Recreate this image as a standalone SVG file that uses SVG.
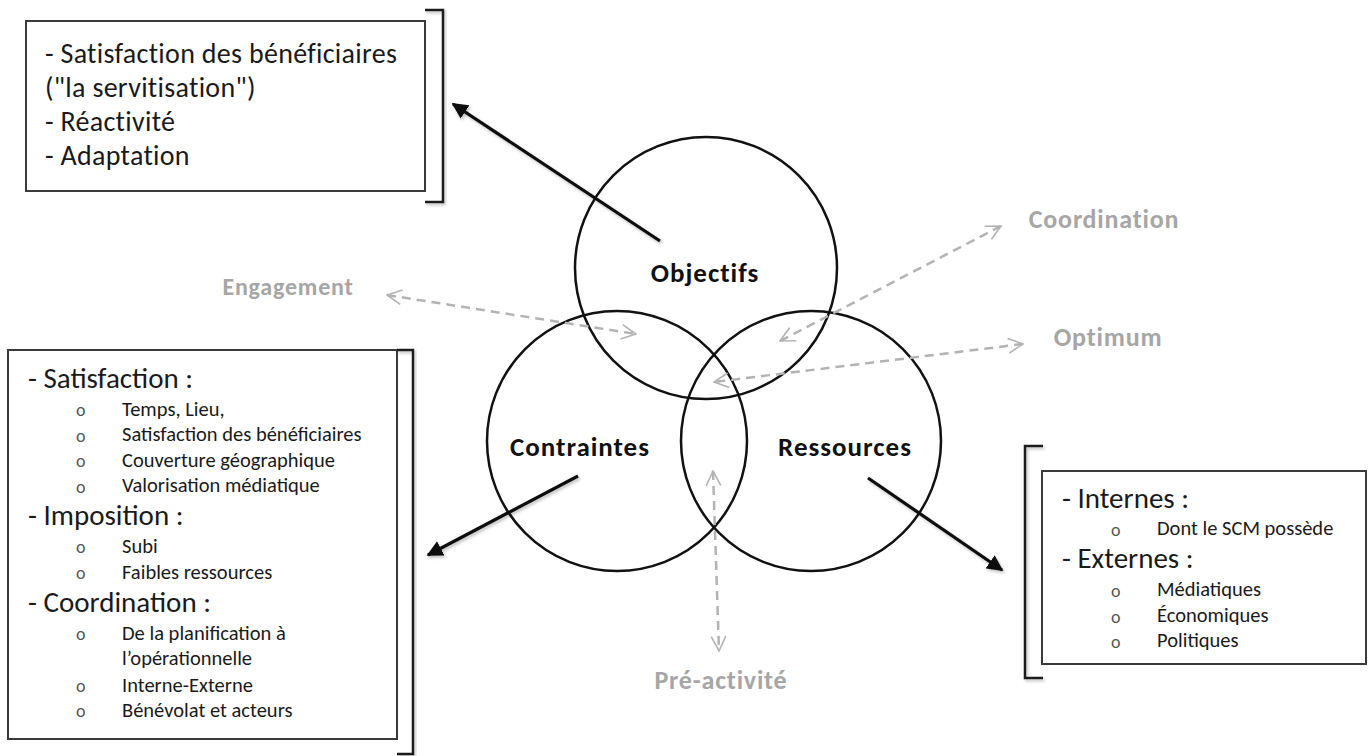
<svg xmlns="http://www.w3.org/2000/svg" width="1372" height="756" viewBox="0 0 1372 756">
  <style>
    text { font-family: Carlito, Lato, "Open Sans", sans-serif; fill: #1a1a1a; }
    .box { fill: #ffffff; stroke: #3a3a3a; stroke-width: 2; }
    .bracket { fill: none; stroke: #1a1a1a; stroke-width: 2.5; filter: url(#soft); }
    .circle { fill: none; stroke: #111111; stroke-width: 2.5; }
    .label { font-weight: bold; font-size: 27px; letter-spacing: 1px; fill: #111111; }
    .glabel { font-weight: bold; font-size: 26px; letter-spacing: 0.8px; fill: #a6a6a6; }
    .h1 { font-size: 28px; letter-spacing: 0.3px; }
    .h2 { font-size: 29px; }
    .sub { font-size: 20.5px; }
    .bul { font-size: 18px; fill: #555555; }
    .main { stroke: #111111; stroke-width: 3.2; fill: none; marker-end: url(#solid); filter: url(#soft); }
    .link { stroke: #b3b3b3; stroke-width: 2.5; stroke-dasharray: 9 6; fill: none; marker-start: url(#open); marker-end: url(#open); }
  </style>
  <defs>
    <filter id="soft" x="-10%" y="-10%" width="130%" height="130%">
      <feDropShadow dx="1.5" dy="2" stdDeviation="1.5" flood-color="#000000" flood-opacity="0.25"/>
    </filter>
    <marker id="solid" viewBox="0 0 10 10" refX="9" refY="5" markerWidth="5" markerHeight="5" orient="auto" markerUnits="strokeWidth">
      <path d="M0,0 L10,5 L0,10 Z" fill="#111111"/>
    </marker>
    <marker id="open" viewBox="0 0 12 12" refX="11" refY="6" markerWidth="7" markerHeight="7" orient="auto-start-reverse" markerUnits="strokeWidth">
      <path d="M1,1 L11,6 L1,11" fill="none" stroke="#b3b3b3" stroke-width="1.1"/>
    </marker>
  </defs>

  <rect width="1372" height="756" fill="#ffffff"/>

  <!-- Venn of the three dimensions -->
  <g id="objectifs">
    <circle class="circle" cx="706" cy="268" r="131"/>
    <text class="label" x="705" y="282" text-anchor="middle">Objectifs</text>
  </g>
  <g id="contraintes">
    <circle class="circle" cx="617" cy="441" r="130"/>
    <text class="label" x="580" y="456" text-anchor="middle">Contraintes</text>
  </g>
  <g id="ressources">
    <circle class="circle" cx="811" cy="441" r="130"/>
    <text class="label" x="845" y="456" text-anchor="middle">Ressources</text>
  </g>

  <!-- Objectives box -->
  <g id="box-objectifs">
    <rect class="box" x="26" y="21" width="399" height="170"/>
    <path class="bracket" d="M425,10 H443 V202 H425"/>
    <text class="h1" x="45" y="63">- Satisfaction des bénéficiaires</text>
    <text class="h1" x="45" y="97">("la servitisation")</text>
    <text class="h1" x="45" y="131">- Réactivité</text>
    <text class="h1" x="45" y="165">- Adaptation</text>
  </g>

  <!-- Constraints box -->
  <g id="box-contraintes">
    <rect class="box" x="8" y="350" width="389" height="389"/>
    <path class="bracket" d="M397,350 H413 V754 H397"/>
    <text class="h2" x="28" y="388">- Satisfaction :</text>
    <text class="bul" x="76" y="416">o</text><text class="sub" x="122" y="416">Temps, Lieu,</text>
    <text class="bul" x="76" y="442">o</text><text class="sub" x="122" y="441">Satisfaction des bénéficiaires</text>
    <text class="bul" x="76" y="467">o</text><text class="sub" x="122" y="467">Couverture géographique</text>
    <text class="bul" x="76" y="493">o</text><text class="sub" x="122" y="492">Valorisation médiatique</text>
    <text class="h2" x="28" y="525">- Imposition :</text>
    <text class="bul" x="76" y="553">o</text><text class="sub" x="122" y="553">Subi</text>
    <text class="bul" x="76" y="579">o</text><text class="sub" x="122" y="579">Faibles ressources</text>
    <text class="h2" x="28" y="612">- Coordination :</text>
    <text class="bul" x="76" y="640">o</text><text class="sub" x="122" y="640">De la planification à</text>
    <text class="sub" x="122" y="665">l’opérationnelle</text>
    <text class="bul" x="76" y="692">o</text><text class="sub" x="122" y="692">Interne-Externe</text>
    <text class="bul" x="76" y="717">o</text><text class="sub" x="122" y="717">Bénévolat et acteurs</text>
  </g>

  <!-- Resources box -->
  <g id="box-ressources">
    <rect class="box" x="1042" y="471" width="324" height="193"/>
    <path class="bracket" d="M1043,446 H1025 V678 H1043"/>
    <text class="h2" x="1062" y="508">- Internes :</text>
    <text class="bul" x="1111" y="536">o</text><text class="sub" x="1157" y="535">Dont le SCM possède</text>
    <text class="h2" x="1062" y="568">- Externes :</text>
    <text class="bul" x="1111" y="597">o</text><text class="sub" x="1157" y="596">Médiatiques</text>
    <text class="bul" x="1111" y="623">o</text><text class="sub" x="1157" y="622">Économiques</text>
    <text class="bul" x="1111" y="648">o</text><text class="sub" x="1157" y="647">Politiques</text>
  </g>

  <!-- Interaction labels -->
  <g id="engagement"><text class="glabel" x="288" y="295" text-anchor="middle" style="font-size:24px">Engagement</text></g>
  <g id="coordination"><text class="glabel" x="1104" y="228" text-anchor="middle">Coordination</text></g>
  <g id="optimum"><text class="glabel" x="1108" y="346" text-anchor="middle">Optimum</text></g>
  <g id="preactivite"><text class="glabel" x="721" y="689" text-anchor="middle">Pré-activité</text></g>

  <!-- Connectors -->
  <g id="connectors">
    <line class="main" x1="660" y1="241" x2="453" y2="104"/>
    <line class="main" x1="578" y1="476" x2="428" y2="555"/>
    <line class="main" x1="868" y1="478" x2="1002" y2="570"/>
    <line class="link" x1="387" y1="295" x2="636" y2="334"/>
    <line class="link" x1="1001" y1="226" x2="780" y2="341"/>
    <line class="link" x1="1023" y1="344" x2="714" y2="382"/>
    <line class="link" x1="713" y1="471" x2="719" y2="651"/>
  </g>
</svg>
